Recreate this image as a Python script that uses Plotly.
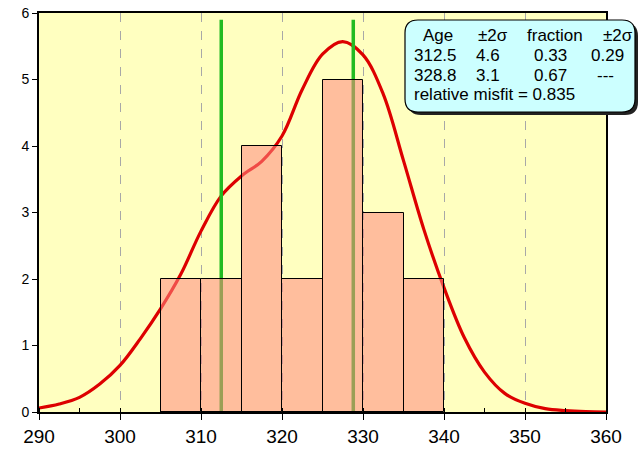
import plotly.graph_objects as go

# ---- data ----
bin_centers = [307.5, 312.5, 317.5, 322.5, 327.5, 332.5, 337.5]
bin_counts = [2, 2, 4, 2, 5, 3, 2]
bin_width = 5

curve_x = [290, 292.5, 295, 297.5, 300, 302.5, 305, 307.5, 310, 312.5, 315, 317.5,
           320, 322.5, 325, 327.5, 330, 332.5, 335, 337.5, 340, 342.5, 345, 347.5,
           350, 352.5, 355, 357.5, 360]
curve_y = [0.06, 0.12, 0.22, 0.42, 0.70, 1.10, 1.55, 2.07, 2.72, 3.25, 3.55, 3.77,
           4.15, 4.85, 5.38, 5.57, 5.37, 4.78, 3.78, 2.75, 1.87, 1.12, 0.60, 0.28,
           0.13, 0.05, 0.02, 0.005, 0.0]

peak_ages = [312.5, 328.8]
peak_top = 5.9

table_header = ["Age", "±2σ", "fraction", "±2σ"]
table_rows = [["312.5", "4.6", "0.33", "0.29"],
              ["328.8", "3.1", "0.67", "---"]]
misfit_text = "relative misfit = 0.835"

x_ticks = [290, 300, 310, 320, 330, 340, 350, 360]
y_ticks = [0, 1, 2, 3, 4, 5, 6]
x_range = [290, 360]
y_range = [0, 6]

# ---- layout geometry (pixels) ----
W, H = 641, 455
L, R, T, B = 39, 35, 13, 43
PW, PH = W - L - R, H - T - B


def px(xp):
    return (xp - L) / PW


def py(yp):
    return (H - B - yp) / PH


def rounded_path(x0, y0, x1, y1, r):
    X0, X1 = px(x0), px(x1)
    Y0, Y1 = py(y0), py(y1)  # Y0 top, Y1 bottom
    rx, ry = r / PW, r / PH
    return (f"M {X0+rx},{Y0} L {X1-rx},{Y0} Q {X1},{Y0} {X1},{Y0-ry} "
            f"L {X1},{Y1+ry} Q {X1},{Y1} {X1-rx},{Y1} "
            f"L {X0+rx},{Y1} Q {X0},{Y1} {X0},{Y1+ry} "
            f"L {X0},{Y0-ry} Q {X0},{Y0} {X0+rx},{Y0} Z")


fig = go.Figure()

fig.add_trace(go.Scatter(x=curve_x, y=curve_y, mode="lines",
                         line=dict(color="#DD0000", width=3.2, shape="spline"),
                         showlegend=False, hoverinfo="skip"))
for a in peak_ages:
    fig.add_trace(go.Scatter(x=[a, a], y=[0, peak_top], mode="lines",
                             line=dict(color="#22BB22", width=3.5),
                             showlegend=False, hoverinfo="skip"))

# bars on an overlaid subplot so that they sit above the lines
fig.add_trace(go.Bar(x=bin_centers, y=bin_counts, width=bin_width,
                     xaxis="x2", yaxis="y2",
                     marker=dict(color="rgba(255,136,128,0.55)",
                                 line=dict(color="black", width=1)),
                     showlegend=False, hoverinfo="skip"))

shapes = [
    dict(type="path", xref="paper", yref="paper",
         path=rounded_path(408, 23, 638, 115, 13),
         fillcolor="#222222", line=dict(width=0), layer="above"),
    dict(type="path", xref="paper", yref="paper",
         path=rounded_path(405, 20, 635, 112, 13),
         fillcolor="#CCFFFF", line=dict(color="black", width=1.2), layer="above"),
]

annotations = []
font = dict(family="Liberation Sans, Arial, sans-serif", size=17, color="black")
header_x = [421, 476, 525, 601]
col_x = [412, 474, 532, 589]
row_y = [35.5, 55.5, 75, 94.5]
for t, xx in zip(table_header, header_x):
    annotations.append(dict(text=t, x=px(xx), y=py(row_y[0]), xref="paper", yref="paper",
                            xanchor="left", yanchor="middle", showarrow=False, font=font))
for ri, row in enumerate(table_rows):
    for ci, t in enumerate(row):
        xx = col_x[ci] + (6 if t == "---" else 0)
        annotations.append(dict(text=t, x=px(xx), y=py(row_y[ri + 1]), xref="paper",
                                yref="paper", xanchor="left", yanchor="middle",
                                showarrow=False, font=font))
annotations.append(dict(text=misfit_text, x=px(412), y=py(row_y[3]), xref="paper",
                        yref="paper", xanchor="left", yanchor="middle",
                        showarrow=False, font=font))

fig.update_layout(
    width=W, height=H,
    margin=dict(l=L, r=R, t=T, b=B, pad=0),
    paper_bgcolor="white",
    plot_bgcolor="#FFFFC0",
    bargap=0,
    shapes=shapes,
    annotations=annotations,
    xaxis=dict(range=x_range, tickvals=x_ticks, ticktext=[str(v) for v in x_ticks],
               ticks="outside", ticklen=6, tickwidth=1, tickcolor="black",
               showline=True, linecolor="black", linewidth=2, mirror=True,
               showgrid=True, gridcolor="#A8A8A8", gridwidth=1, griddash="dash",
               zeroline=False,
               minor=dict(dtick=5, tick0=290, ticks="inside", ticklen=4,
                          tickcolor="black", tickwidth=1, showgrid=False),
               tickfont=dict(family="Liberation Sans, Arial, sans-serif", size=19,
                             color="black"),
               automargin=False),
    yaxis=dict(range=y_range, tickvals=y_ticks, ticks="outside", ticklen=5,
               tickwidth=1, tickcolor="black",
               showline=True, linecolor="black", linewidth=2, mirror=True,
               showgrid=False, zeroline=False,
               tickfont=dict(family="Liberation Sans, Arial, sans-serif", size=14,
                             color="black"),
               automargin=False),
    xaxis2=dict(range=x_range, overlaying="x", visible=False, showgrid=False,
                zeroline=False),
    yaxis2=dict(range=y_range, overlaying="y", visible=False, showgrid=False,
                zeroline=False),
)

fig.write_html("out.html", config={"displayModeBar": False},
               post_script="document.body.style.margin='0';")
